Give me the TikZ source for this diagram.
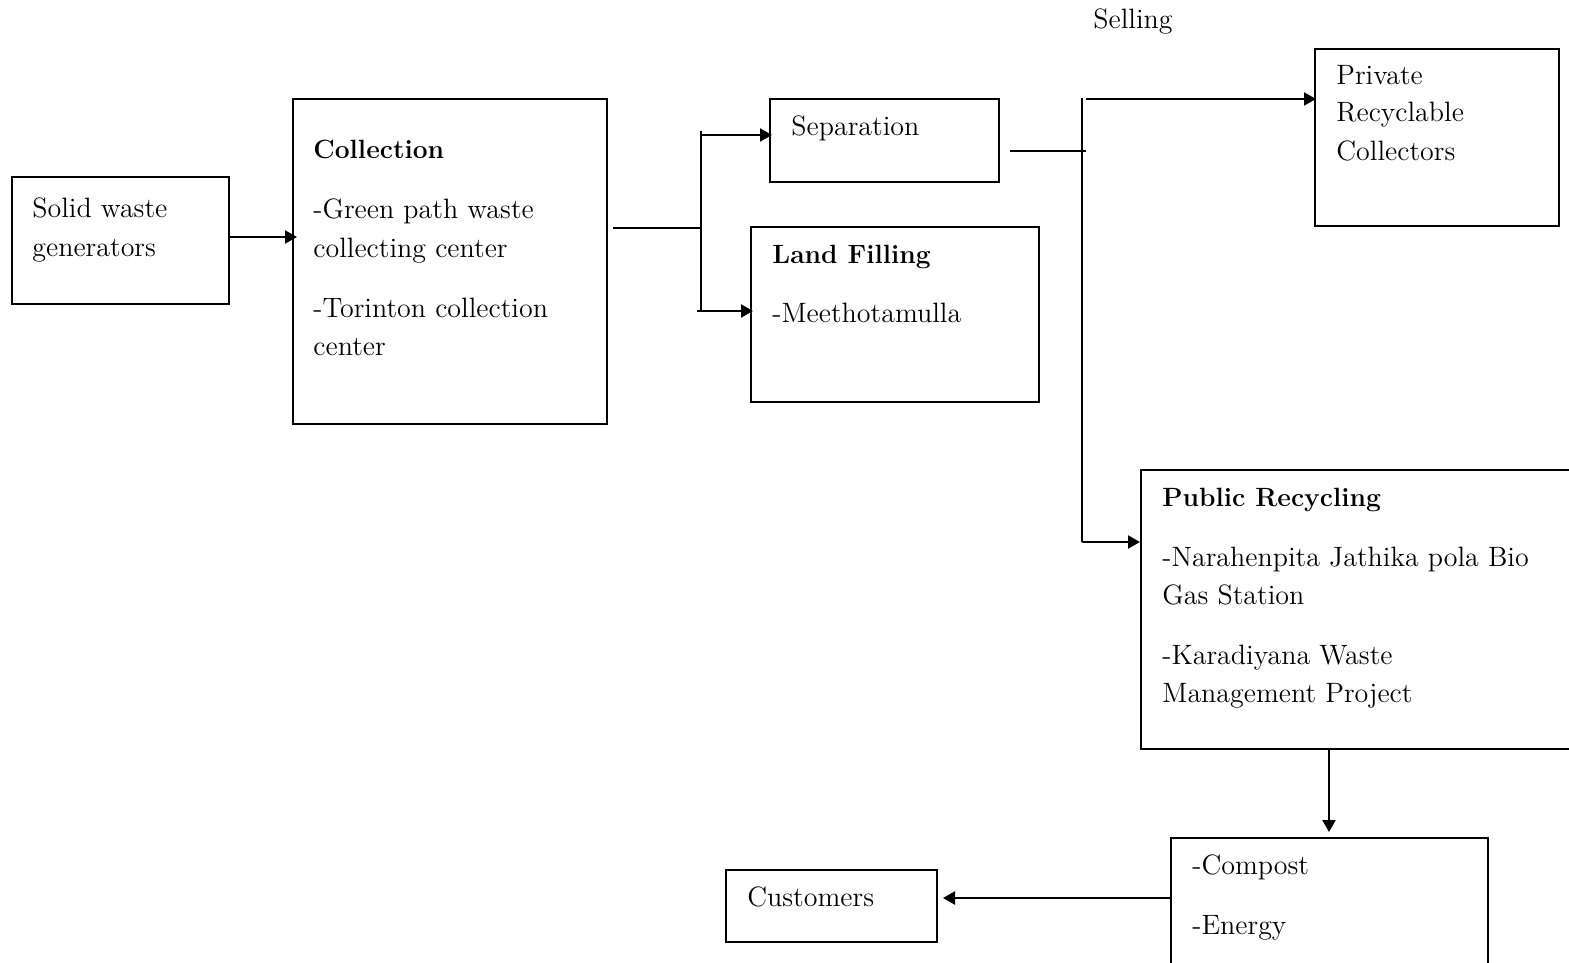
\documentclass[tikz,border=0pt]{standalone}
\usetikzlibrary{arrows.meta,fit}
\begin{document}
\begin{tikzpicture}[x=0.5pt,y=-0.5pt,
  box/.style={draw, line width=1pt, inner sep=0pt},
  txt/.style={anchor=base west, inner sep=0pt, font=\fontsize{14}{17}\selectfont},
  btxt/.style={txt, font=\fontsize{13.2}{17}\selectfont\bfseries},
  link/.style={line width=0.7pt},
  arr/.style={line width=1.1pt, -{Triangle[length=6pt,width=6.5pt]}}]
\useasboundingbox (0,0) rectangle (1569,963);
\clip (0,0) rectangle (1569,963);
% boxes
\node[box, fit={(12,177)(229,304)}] (solid) {};
\node[box, fit={(293,99)(607,424)}] (collection) {};
\node[box, fit={(770,99)(999,182)}] (separation) {};
\node[box, fit={(751,227)(1039,402)}] (landfill) {};
\node[box, fit={(1315,49)(1559,226)}] (private) {};
\node[box, fit={(1141,470)(1600,749)}] (public) {};
\node[box, fit={(1171,838)(1488,1000)}] (products) {};
\node[box, fit={(726,870)(937,942)}] (customers) {};
% texts
\node[txt] (t1) at (32,217) {Solid waste};
\node[txt] (t2) at (32,256) {generators};
\node[btxt] (t3) at (313,159) {Collection};
\node[txt] (t4) at (313,219) {-Green path waste};
\node[txt] (t5) at (313,257) {collecting center};
\node[txt] (t6) at (313,317) {-Torinton collection};
\node[txt] (t7) at (313,355) {center};
\node[txt] (t8) at (791,136) {Separation};
\node[btxt] (t9) at (772,263) {Land Filling};
\node[txt] (t10) at (772,322) {-Meethotamulla};
\node[txt] (t11) at (1133,29) [anchor=base] {Selling};
\node[txt] (t12) at (1336,85) {Private};
\node[txt] (t13) at (1336,122) {Recyclable};
\node[txt] (t14) at (1336,161) {Collectors};
\node[btxt] (t15) at (1162,506) {Public Recycling};
\node[txt] (t16) at (1162,566) {-Narahenpita Jathika pola Bio};
\node[txt] (t17) at (1162,604) {Gas Station};
\node[txt] (t18) at (1162,664) {-Karadiyana Waste};
\node[txt] (t19) at (1162,702) {Management Project};
\node[txt] (t20) at (1192,874) {-Compost};
\node[txt] (t21) at (1192,934) {-Energy};
\node[txt] (t22) at (747,906) {Customers};
% junction coordinates
\coordinate (c1) at (613,228);
\coordinate (j1) at (701,228);
\coordinate (j1t) at (701,131);
\coordinate (j1a) at (701,135);
\coordinate (j1b) at (701,311);
\coordinate (j1bb) at (697,311);
\coordinate (c2) at (1010,151);
\coordinate (j2) at (1086,151);
\coordinate (j2t) at (1082,98);
\coordinate (j2a) at (1086,99);
\coordinate (j2b) at (1082,542);
% connectors
\draw[arr] (solid.east |- 0,237) -- ([xshift=2.5pt]collection.west |- 0,237);
\draw[link] (c1) -- (j1);
\draw[line width=1pt] (j1t) -- (j1b);
\draw[arr] (j1a) -- ([xshift=1.5pt]separation.west |- j1a);
\draw[arr] (j1bb) -- ([xshift=1.5pt]landfill.west |- j1bb);
\draw[link] (c2) -- (j2);
\draw[link] (j2t) -- (j2b);
\draw[arr] (j2a) -- ([xshift=1pt]private.west |- j2a);
\draw[arr] (j2b) -- (public.west |- j2b);
\draw[arr] (public.south -| 1329,0) -- ([yshift=2.5pt]products.north -| 1329,0);
\draw[arr] (products.west |- 0,898) -- ([xshift=2.5pt]customers.east |- 0,898);
\end{tikzpicture}
\end{document}
